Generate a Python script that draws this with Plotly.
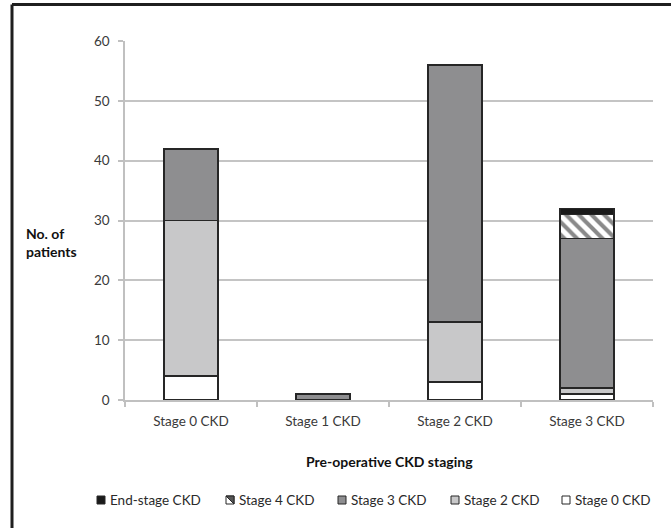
import plotly.graph_objects as go

categories = ["Stage 0 CKD", "Stage 1 CKD", "Stage 2 CKD", "Stage 3 CKD"]
stage0 = [4, 0, 3, 1]
stage2 = [26, 0, 10, 1]
stage3 = [12, 1, 43, 25]
stage4 = [0, 0, 0, 4]
endstage = [0, 0, 0, 1]
y_ticks = [0, 10, 20, 30, 40, 50, 60]
legend_order = ["End-stage CKD", "Stage 4 CKD", "Stage 3 CKD", "Stage 2 CKD", "Stage 0 CKD"]


def nz(vals):
    return [v if v else None for v in vals]


FONT = "Lato, 'Open Sans', sans-serif"
OUT = "#262626"

# plot-area geometry (pixels) used to convert legend/frame placements to paper coords
L, R, T, B = 125, 18, 41, 128
W, H = 671, 528
PW, PH = W - L - R, H - T - B


def px(x):
    return (x - L) / PW


def py(y):
    return (H - B - y) / PH


colors = {
    "Stage 0 CKD": "#ffffff",
    "Stage 2 CKD": "#c8c8c9",
    "Stage 3 CKD": "#8e8e90",
    "Stage 4 CKD": "#ffffff",
    "End-stage CKD": "#1a1a1a",
}

fig = go.Figure()
series = [
    ("Stage 0 CKD", stage0),
    ("Stage 2 CKD", stage2),
    ("Stage 3 CKD", stage3),
    ("Stage 4 CKD", stage4),
    ("End-stage CKD", endstage),
]
for name, vals in series:
    mk = dict(color=colors[name], line=dict(color=OUT, width=1.6))
    if name == "Stage 4 CKD":
        mk["pattern"] = dict(shape="\\", fgcolor="#8a8a8a", bgcolor="#ffffff",
                             size=9, solidity=0.45, fillmode="replace")
    fig.add_trace(go.Bar(name=name, x=categories, y=nz(vals), marker=mk, showlegend=False))

fig.update_layout(
    width=W, height=H,
    margin=dict(l=L, r=R, t=T, b=B),
    paper_bgcolor="white", plot_bgcolor="white",
    barmode="stack", bargap=0.59,
    font=dict(family=FONT, size=13.5, color="#3a3a3a"),
    showlegend=False,
)
fig.update_xaxes(
    range=[-0.5, 3.5], showgrid=False, showline=True, linecolor="#c0c0c0", linewidth=1.5,
    ticks="outside", tickson="boundaries", ticklen=5, tickcolor="#c0c0c0", tickwidth=1.5,
    tickfont=dict(size=13.5, color="#3a3a3a"), ticklabelstandoff=8,
)
fig.update_yaxes(
    range=[0, 60], tickvals=y_ticks, showgrid=True, gridcolor="#c4c4c4", gridwidth=1.5,
    showline=True, linecolor="#c0c0c0", linewidth=1.5, zeroline=False,
    ticks="outside", ticklen=5, tickcolor="#c0c0c0", tickwidth=1.5,
    tickfont=dict(size=13.5, color="#3a3a3a"), ticklabelstandoff=6,
)

fig.add_annotation(text="<b>No. of<br>patients</b>", xref="paper", yref="paper",
                   x=px(24), y=py(243), xanchor="left", yanchor="middle", align="left",
                   showarrow=False, font=dict(family=FONT, size=14, color="#111111"))
fig.add_annotation(text="<b>Pre-operative CKD staging</b>", xref="paper", yref="paper",
                   x=0.5, y=py(461), xanchor="center", yanchor="middle",
                   showarrow=False, font=dict(family=FONT, size=14, color="#111111"))

# custom legend (marker squares + labels)
legend_x = [101, 230, 342, 455, 566]
ly = 500
s = 4
for name, cx in zip(legend_order, legend_x):
    fig.add_shape(type="rect", xref="paper", yref="paper",
                  x0=px(cx - s), x1=px(cx + s), y0=py(ly + s), y1=py(ly - s),
                  fillcolor=colors[name], line=dict(color=OUT, width=1))
    if name == "Stage 4 CKD":
        fig.add_shape(type="path", xref="paper", yref="paper",
                      path=f"M {px(cx - s)} {py(ly - s)} L {px(cx + s)} {py(ly - s)} "
                           f"L {px(cx + s)} {py(ly + s)} Z",
                      fillcolor="#555555", line=dict(color=OUT, width=1))
    fig.add_annotation(text=name, xref="paper", yref="paper", x=px(cx + 7), y=py(ly),
                       xanchor="left", yanchor="middle", showarrow=False,
                       font=dict(family=FONT, size=13.5, color="#2a2a2a"))

# outer frame (top and left edges visible)
fig.add_shape(type="line", xref="paper", yref="paper", x0=px(12), x1=px(700), y0=py(4.5), y1=py(4.5),
              line=dict(color="#1f1f1f", width=3))
fig.add_shape(type="line", xref="paper", yref="paper", x0=px(12), x1=px(12), y0=py(4.5), y1=py(560),
              line=dict(color="#1f1f1f", width=3))

fig.write_html("out.html", config={"displayModeBar": False},
               post_script="document.body.style.margin='0';document.body.style.padding='0';")
